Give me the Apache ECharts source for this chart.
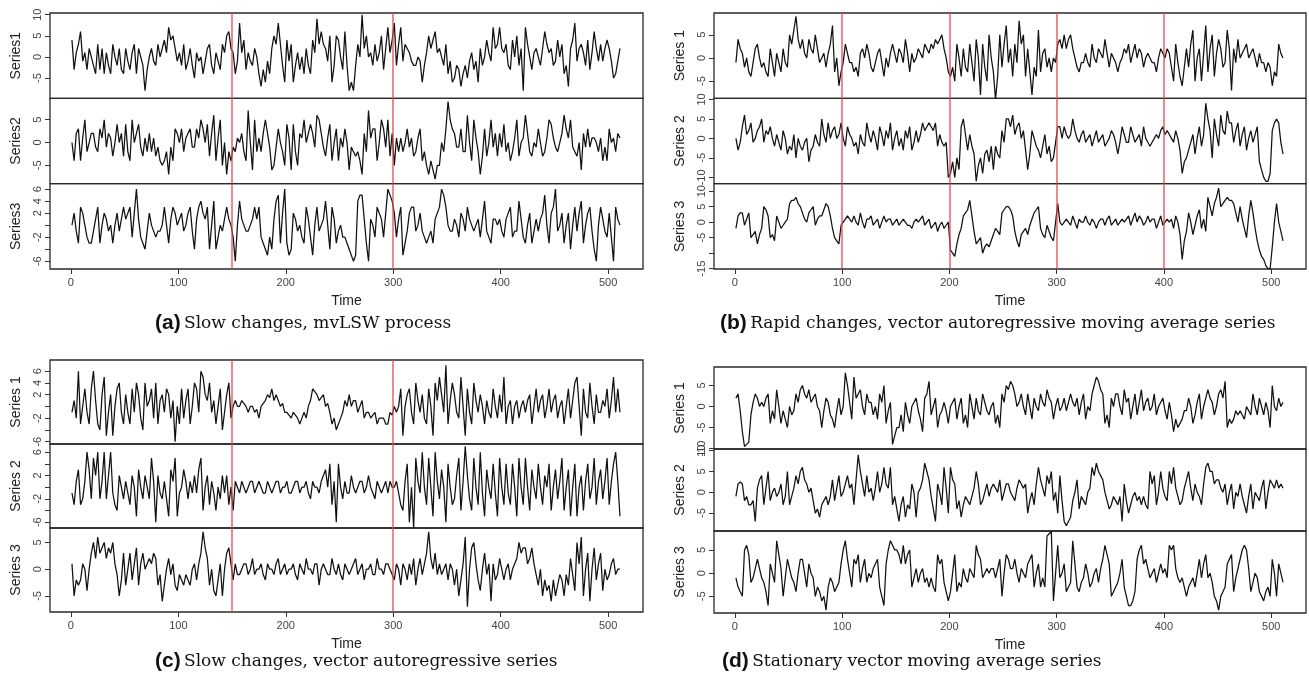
<!DOCTYPE html>
<html><head><meta charset="utf-8">
<script src="https://cdn.jsdelivr.net/npm/echarts@6/dist/echarts.min.js"></script>
<style>html,body{margin:0;padding:0;background:#fff}#c{width:1309px;height:687px}</style>
</head><body><div id="c"></div>
<script>
// Every series is read at t = 1, 3, 5, ..., 511 (256 readings)
const T_START = 1, T_STEP = 2;

// (a) Slow changes, mvLSW process
const a1 = [4,-3,1, 3,6,-1, 1,-3,2, 0,-2,-4, 3,-3,2, -4,1,-2, -4,3,0, -2,2,-3, -4,2,-1,
 -3,1,3, -4,2,0, -2,-8,-3, 0,2,-1, -2,3,0, 2,4,1, 7,4,5, 2,-1,1,
 -2,3,-3, -1,2,-2, -5,1,-1, 0,-4,-1, 2,3,-2, -4,1,-1, -3,3,1, 5,6,2, 1,-4,-1,
 8,1,4, -3,1,-1, -2,2,0, -4,-7,-3, -6,-1,-4, 2,5,3, 8,3,-2, -6,4,-1,
 3,-6,-2, 1,-3,0, -4,2,-2, -4,4,1, 9,3,6, 3,2,-1, 5,-6,-2, 5,4,0, -3,6,-2,
 -8,-6,-8, -2,3,0, 10,2,5, 0,1,-2, 3,-1,1, 5,-3,2, 7,1,4, 8,-2,3,
 7,-1,3, 2,1,-1, -2,-2,0, -1,-6,-2, 1,5,2, 4,6,1, 2,0,-2, 3,-4,-1, -6,-5,-2,
 -3,-7,-4, -2,-5,-1, 1,-3,-1, -6,2,-2, 0,4,1, -1,7,2, 3,7,2, 1,3,-2,
 -3,4,0, 5,-2,2, -8,7,3, 0,-3,1, 2,0,-2, 2,6,3, 1,2,-2, -1,4,0, 3,-4,-2,
 -7,2,4, 8,-1,2, 3,1,-2, 4,-3,1, 6,2,-1, 3,-1,2, 4,2,-1, -5,-4,-1,
 2];
const a2 = [0,-4,2, 3,-4,1, 5,-2,0, 2,2,-1, -2,3,1, 5,-1,2, 1,-3,0, 4,0,2, -3,4,-2,
 -4,5,0, 2,4,-1, -3,1,-2, 2,-2,1, -3,-1,-4, -5,-4,-2, -7,-1,-4, 3,2,0,
 3,-2,1, 2,3,-1, -1,3,1, 5,3,0, 4,-3,2, 6,-4,1, 5,-5,0, -7,-2,-4, -1,-2,1,
 0,2,-2, -4,7,0, -6,5,-2, 1,-2,2, 5,2,-1, -6,-5,-1, 3,0,-2, -5,4,1,
 -6,4,-2, -5,2,1, 5,0,2, 4,2,-1, 6,5,2, -1,-3,1, 4,-4,0, 3,-4,1, -1,3,0,
 -6,-1,-2, -3,-2,-4, -7,2,-2, 7,1,3, 3,-4,0, 5,3,-1, 5,-3,2, -5,1,-2,
 1,-2,0, 3,-1,1, -3,-2,1, 3,-4,-2, -5,-7,-4, -6,-8,-5, -5,0,-2, 3,9,5, 3,2,-1,
 -1,3,-2, -2,6,0, -4,5,1, -2,-7,-3, 3,-3,0, 5,-1,2, -3,2,-1, 4,-2,0,
 -4,-2,1, 5,-3,0, 1,6,2, -2,-3,0, -1,3,0, -3,-2,1, 5,4,1, -1,-2,0, 2,6,3,
 1,5,-1, -2,-3,0, -6,2,-1, 3,-1,1, 1,0,-2, 1,-4,-1, -4,3,0, 1,-2,2,
 1];
const a3 = [0,2,-1, -3,3,2, 0,-2,-3, -3,-1,1, 3,-3,0, 2,1,-1, 0,-3,0, 2,-1,1, 3,1,2,
 3,-2,2, 6,1,-2, -3,-4,-1, 2,0,-1, -2,-1,-1, 0,3,0, -3,1,3, 2,0,1,
 2,-1,0, 2,3,-1, -4,1,3, 4,2,1, 3,-4,0, 4,-4,-2, 0,-1,1, 3,1,0, -2,-6,0,
 4,1,0, -1,-1,0, 1,3,1, 3,-2,-3, -4,-5,-2, -4,1,4, 5,-3,2, 6,-3,-5,
 -4,2,1, -1,0,-2, -3,3,1, -2,-5,0, 3,-1,0, 1,4,0, -4,3,1, -3,-1,0, -2,-2,-3,
 -4,-5,-6, -5,4,5, 5,1,-3, -6,1,0, -2,3,2, 1,-2,2, 6,5,4, 2,-2,1,
 3,-5,-3, -1,2,3, 3,-1,0, 2,-1,-2, -3,-2,-1, -3,1,2, 3,6,5, 3,0,-1, -1,1,0,
 -2,2,1, -1,3,1, 0,-1,0, 1,-2,1, 4,-1,-2, -3,1,1, 0,1,-1, -2,1,2,
 3,-2,-1, -1,4,1, -2,-3,0, 2,-3,-1, 1,-1,1, 2,5,0, -3,2,3, 6,-1,0, 2,-3,0,
 2,-4,0, 3,-1,2, 4,-3,0, 2,3,-1, -4,-6,0, 3,1,-1, -2,2,-2, -6,3,1,
 0];

// (b) Rapid changes, vector autoregressive moving average series
const b1 = [-1,4,2, 1,-2,0, -3,-4,-1, 2,3,0, -2,-1,-3, -4,2,-1, -4,1,-1, -3,2,-1, -2,5,3,
 6,9,4, 2,4,1, 0,4,2, 1,5,2, -1,0,1, -2,1,3, 7,-3,0, -6,-3,-1,
 3,1,-1, -1,-3,-2, -4,1,2, 0,3,1, -2,-3,-1, 1,2,-1, -4,0,-2, 1,3,1, -1,2,1,
 -1,4,1, -3,1,-1, 0,2,1, 0,3,2, 1,3,2, 4,3,4, 5,2,0, -3,-4,-2,
 -5,3,0, -4,2,-2, -3,3,-1, -5,4,0, -8,3,-2, -5,5,0, -3,-9,-4, 5,-2,3, 7,-1,2,
 -4,3,-1, 8,3,5, -4,2,-3, -8,-2,-4, 6,-3,1, 2,-2,0, -3,0,-1, 3,4,2,
 5,2,4, 5,2,0, -2,-3,-1, -1,1,-1, -2,3,0, -1,2,1, 0,4,1, -2,1,0, -1,-3,-1,
 0,2,1, 3,-1,1, 3,0,2, 1,-2,0, 1,0,-1, -1,-3,0, 2,1,0, 2,1,-2,
 -5,3,-1, -4,-6,-2, 2,-2,3, 6,-5,0, 2,-5,1, 7,-3,2, 5,-4,1, 4,2,-2, -1,6,2,
 -7,2,-1, 4,0,1, 2,3,0, 1,2,0, -2,1,-1, -1,-3,-1, -2,-6,-3, -4,3,1,
 0];
const b2 = [0,-3,-1, 3,6,1, 2,4,-1, 0,2,3, 5,-1,2, 1,3,0, -2,1,-1, -3,2,0, -4,-2,-3,
 1,-5,0, -2,-3,-1, 0,-6,-3, -2,1,-1, -2,5,1, -1,4,0, 2,3,0, 1,4,0,
 -2,3,1, 0,-2,-1, -4,1,-1, -2,4,1, -1,2,0, -3,3,1, -2,2,0, 4,-3,0, 2,-2,0,
 -3,2,0, 3,-3,-1, 2,-1,1, 4,2,3, 4,3,2, 4,-2,1, -1,-2,-1, -10,-9,-6,
 -10,-5,-8, 3,5,1, -3,1,-2, -4,-11,-7, -5,-9,-4, -3,-6,-2, -8,-2,-4, -5,2,-1, 5,5,3,
 6,1,3, 4,0,2, -3,-8,-4, 2,0,-2, -3,-5,-2, 1,-4,-2, -6,-5,-1, 3,3,0,
 3,1,0, 1,5,2, 0,-1,1, 2,-1,0, 1,-2,0, 2,-1,0, 1,-2,-1, 0,2,1, -1,-4,-1,
 3,1,-1, -1,3,1, -1,0,1, -2,3,0, -1,-2,-1, 0,1,0, 2,3,1, 2,1,0,
 -1,2,0, -3,-9,-6, -5,-3,-1, 1,-4,0, 3,-2,1, 9,5,2, -5,5,1, -2,6,2, 1,7,4,
 4,-1,2, 4,-2,1, 3,-3,0, 2,-1,1, 3,-6,-8, -10,-11,-11, -9,2,4, 5,4,-1,
 -4];
const b3 = [-2,2,3, 3,-1,1, 3,-5,-4, -3,-7,-4, -2,5,4, 2,-5,-4, -6,2,0, -2,-1,0, 1,6,7,
 7,8,6, 5,3,1, 0,3,4, 5,-1,1, 2,2,4, 6,5,2, -2,-5,-6, -7,-1,0,
 1,2,1, 0,2,0, -1,3,0, -2,1,1, 2,-1,0, 1,-2,0, 2,0,1, 1,-1,0, 1,-1,0,
 1,0,-1, -1,-2,0, 1,0,1, 2,-1,0, 1,-2,-1, 0,-3,-1, 0,-2,-1, 0,-9,-10,
 -11,-7,-4, -2,2,3, 4,7,2, -3,-7,-6, -5,-10,-8, -7,-8,-6, -4,-2,-3, -4,3,4, 5,5,4,
 2,-3,-6, -8,-4,-3, -2,-4,-1, 1,3,4, 5,-2,-4, -5,-1,-3, -5,-6,0, 6,0,-1,
 0,1,0, -1,2,0, -2,1,0, 0,2,0, -1,1,0, -2,0,1, 1,-1,1, 2,-1,0, 1,-1,0,
 1,0,1, 2,-1,1, 3,0,2, 1,-1,0, 2,0,1, 1,-2,0, 2,-1,0, 1,0,1,
 -2,2,0, -4,-12,-6, -3,3,0, -4,-1,2, 4,-2,1, -3,8,5, 2,6,8, 11,5,6, 7,8,7,
 7,6,3, 0,5,1, -2,-5,2, 7,3,-2, -6,-9,-11, -12,-14,-15, -15,-8,0, 6,0,-3,
 -6];

// (c) Slow changes, vector autoregressive series
const c1 = [-1,1,-2, 6,-3,0, 3,-1,-3, 3,6,1, -3,-4,2, 5,-5,-1, 2,-5,0, 3,4,-1, -3,2,-1,
 -3,3,-1, 4,2,-2, -4,4,0, 1,3,-2, 4,-3,1, 2,-1,3, 2,-2,1, -6,0,-3,
 3,-2,1, 3,-3,0, 4,3,-1, 6,5,2, 1,4,-1, 1,-3,0, 3,-4,-1, 2,4,-2, 0,1,0,
 0,1,0.5, 0,-1,0, 0,-1,-0.5, -2,0,0.5, 1,2,1.5, 3,1,2, 1,0,0.5, -1,-1,-1.5,
 -2,-1,-1.5, -2,-3,-2, -1,-2,0, 1,3,2.5, 2,1,1.5, 2,0,0.5, -1,-3,-2, -4,-3,-2, -1,1,0,
 2,0,1, 1,-1,0, 1,-2,-1, -1,-2,-1.5, -1,-3,-2, -2,-2,-3, -3,-1,-1.5, 0,-1,0,
 3,-5,0, 2,3,-1, -3,4,1, -1,2,-2, -3,3,0, -5,4,1, 5,2,-1, 7,-3,1, 4,2,-1,
 -2,5,0, -5,3,-1, -3,4,1, -1,2,0, -3,1,-1, -2,3,0, -2,2,-1, 5,-3,0,
 1,-3,0, 1,-2,0, 1,-1,1, 2,-3,0, 3,-1,1, 2,-2,0, 3,-1,1, 2,-2,0, 1,-3,0,
 3,-2,1, 4,5,0, -5,3,-1, -2,4,0, -3,2,-1, -1,1,0, 3,-2,1, 5,-1,3,
 -1];
const c2 = [-1,-3,1, 3,-3,-2, 1,6,3, -2,5,2, 6,-2,1, 6,-2,2, 6,-1,-3, -4,2,0, -2,1,-1,
 -3,2,0, -5,3,0, -2,2,0, -2,5,1, -6,2,-1, -2,1,-2, -5,3,1, 5,-5,-1,
 0,3,1, -2,1,-1, 2,-1,3, 5,-4,0, 2,-3,1, -1,-4,0, -2,2,-1, 2,-3,0, -4,1,0,
 -1,1,0, -1,0,1, 1,-1,0, 1,0,-1, -1,1,0, -1,0,1, 1,-1,0, 0,1,-1,
 -1,0,1, 1,-1,0, 0,1,-1, -2,1,0, 0,-1,1, 2,3,0, 4,-3,1, -6,4,0, -2,1,-1,
 -1,2,0, -1,0,1, 1,-1,0, 2,0,-1, -2,1,0, -1,0,1, -1,1,0, 0,1,-1,
 -3,-4,1, 4,-6,0, -7,5,1, -1,6,0, -3,5,0, -5,6,1, -2,3,0, -6,4,0, -3,-2,2,
 5,-4,1, 7,2,-2, -4,5,0, -3,6,-1, -5,3,0, -2,4,-1, -5,5,0, -3,4,-1,
 -3,4,0, -5,5,0, -3,5,0, -4,3,0, -2,4,0, -3,2,0, 4,-4,0, 3,-2,1, 5,-4,0,
 3,-5,0, 4,-5,0, 2,-4,1, 4,-2,0, 5,-3,1, 3,-2,1, 5,-3,1, 4,6,1,
 -5];
const c3 = [1,-5,-2, -3,-2,1, 0,-4,0, 3,5,2, 6,3,4, 5,2,4, 3,5,1, -1,-5,-2, 3,-3,0,
 3,-2,1, 4,-3,1, 3,0,1, 2,1,3, 2,-3,-1, -6,-3,0, 2,-1,1, -3,-4,-1,
 -2,-3,-1, -2,-3,0, 1,-2,1, 3,7,4, 2,-3,0, -4,-5,-2, 1,-5,0, 3,4,1, -2,1,-1,
 -1,0,1, 1,-1,0, 2,-1,0, 0,1,-1, -2,1,0, 0,-1,1, 2,-1,0, 1,-1,0,
 0,1,-1, -2,1,0, -1,2,0, 0,-1,1, 1,-3,0, 1,0,-1, -1,2,0, -1,1,-1, -2,1,0,
 -1,0,1, 2,-1,0, 1,-2,0, 0,1,-1, -1,2,0, 0,-1,1, 1,0,-1, -2,1,0,
 -3,1,0, -2,1,-1, 2,-3,0, 2,-1,1, 3,7,2, 0,3,-1, 1,-1,0, 1,-2,1, 0,-3,0,
 -5,-2,1, 6,-7,0, 4,5,1, -2,-4,0, 3,-1,1, -6,1,-2, -1,2,0, -2,0,1,
 -2,0,1, 2,5,3, 4,4,1, 2,4,1, -1,-3,0, -5,-2,-4, -3,-6,-2, -5,-3,-1, -2,-5,-1,
 -3,2,-1, -4,5,1, 6,-5,0, 3,-6,0, 4,-2,1, 3,-4,0, -2,-1,1, 2,-1,0,
 0];

// (d) Stationary vector moving average series
const d1 = [2,3,-1, -6,-9.5,-9, -8.5,-2,1, 3,2,0, 1,0,2, 3,-4,-1, -3,4,0, -4,-1,-3, -5,0,-2,
 -1,3,1, 4,5,3, 2,4,1, 2,3,0, -1,-5,-1, 2,1,-2, -3,-5,-1, 2,-2,0,
 8,5,1, -3,7,2, 3,4,0, -2,3,1, 1,-2,0, -3,3,1, 5,-4,-1, 1,-9,-7, -5,-5,-2,
 -6,1,-2, -4,0,1, 2,-1,-3, -6,2,3, 6,-2,0, 2,-5,-2, -1,1,-1, -4,0,1,
 2,-3,0, 2,-4,-2, -5,3,0, -3,2,-1, -2,3,1, -1,-2,0, 1,-4,-2, -5,3,1, 5,4,6,
 5,3,0, 1,3,0, -2,3,0, -3,2,0, -1,3,1, 0,4,2, 1,-3,0, 2,-1,0,
 2,-1,1, 3,1,0, 2,-2,1, 3,-3,0, -1,3,5, 7,6,4, 3,-4,-2, -5,2,0, 3,3,0,
 -2,4,1, 2,-3,0, 3,-2,1, 4,-1,1, 2,-1,0, 3,-2,0, 1,2,-1, -3,1,-2,
 -6,-3,-5, -4,-3,-1, -1,2,0, -4,-2,1, 3,-3,0, 2,4,2, 1,-2,0, 3,4,2, 6,-5,-3,
 -4,-3,-1, -2,-1,-2, -3,0,-1, -2,3,0, -2,2,0, -2,1,-1, -5,5,0, -1,2,0,
 1];
const d2 = [-1,2,2.5, 2,-2,-1, -3,-3,-2, -7,1,3, 4,-3,1, 5,-2,0, 1,-1,0, 2,-3,-1, 5,-3,-1,
 1,4,2, 5,6,3, 2,0,1, -2,-5,-4, -6,-3,-2, -1,-3,-1, 3,-2,1, 4,-1,0,
 2,4,1, 2,-3,3, 9,5,2, -1,4,0, 1,-2,1, 5,0,2, 6,2,1, 6,-3,-1, -4,-7,-3,
 -1,-6,-3, -4,2,0, -6,0,1, 3,7,5, 3,-1,-4, -7,2,0, -3,6,1, -5,6,3,
 2,-4,-2, -6,-3,-1, -2,-3,-1, 1,5,2, -3,-2,0, 2,-1,1, 2,1,0, 3,-2,0, 2,2,0,
 -1,-2,1, 3,2,1, 2,-5,-2, 0,-3,2, 6,3,1, -1,4,2, 5,-2,0, -5,4,-2,
 -7,-8,-7, -6,-2,0, 3,-4,-1, -2,-3,0, 1,6,4, 7,5,4, 3,0,-2, -4,-3,-1, -2,-3,-1,
 -7,2,-2, -5,-3,-1, 0,-2,-1, -3,-1,-3, -4,5,2, 4,-3,0, 5,1,-1, -2,5,2,
 6,1,-1, -3,-2,1, 3,5,1, -2,2,0, -1,-3,2, 6,7,5, 5,2,3, 3,1,0, 2,-3,0,
 2,-4,0, -1,2,-1, -3,-5,-1, 2,-4,0, -1,-2,1, 3,-4,0, 3,2,1, 3,1,2,
 1];
const d3 = [-1,-3,-4, -5,5,6, 4,-2,-1, 1,3,1, -1,-2,-4, -7,2,0, -2,7,4, 1,-5,-1, 3,1,-1,
 -2,-4,0, 3,3,0, -3,2,0, -1,-5,-3, -4,-6,-5, -8,-3,-1, -2,-4,-3, -2,2,5,
 7,3,0, -3,3,2, 4,-2,1, 3,-2,0, -1,1,2, 3,-3,-5, -7,2,5, 7,6,5, 5,4,2,
 6,2,4, 5,-3,-1, 1,-2,0, 1,-2,-1, -3,-1,-3, -4,4,2, 3,-2,-4, -6,-4,0,
 4,-4,-2, -3,1,-1, -2,1,0, -1,6,4, 3,-1,0, 1,0,1, 1,-1,1, 3,-5,0, 4,3,1,
 1,3,0, -2,1,0, -1,2,3, 4,-3,0, 2,-3,-1, -3,8,8.5, 9,-6,0, 6,-1,0,
 2,-4,-3, -2,7,2, -3,-4,-2, -1,2,0, -3,-2,0, 1,-2,1, 3,6,4, 2,-5,-4, -3,-2,0,
 3,-3,-5, -7,-7,-6, -4,3,5, 6,2,3, 1,-1,0, 1,-2,0, 2,0,1, -1,6,5,
 6,1,-1, -2,-1,-3, -5,-3,-2, -1,-3,0, 3,-1,2, 4,-1,0, -2,-5,-6, -8,-5,-4, -3,2,3,
 4,-4,-1, 1,3,5, 6,5,1, -4,-2,0, -1,-4,-5, -6,-4,-3, -5,3,0, -5,2,0,
 -2];

// Axis ranges, ticks and tick labels
const xRange = [-19.44, 532.44];
const xTicks = [0, 100, 200, 300, 400, 500];
const yRangeA = [[-9.8, 10.4], [-9.0, 9.7], [-7.3, 6.9]];
const yTicksA = [[-5, 0, 5, 10], [-5, 0, 5], [-6, -4, -2, 0, 2, 4, 6]];
const yLabelsA = [[-5, 0, 5, 10], [-5, 0, 5], [-6, -2, 2, 4, 6]];
const yRangeB = [[-8.7, 9.7], [-11.6, 10.3], [-15.1, 12.4]];
const yTicksB = [[-5, 0, 5], [-10, -5, 0, 5, 10], [-15, -10, -5, 0, 5, 10]];
const yLabelsB = [[-5, 0, 5], [-10, -5, 0, 5, 10], [-15, -5, 0, 5, 10]];
const yRangeC = [[-6.4, 7.9], [-7.0, 7.4], [-8.0, 7.7]];
const yTicksC = [[-6, -4, -2, 0, 2, 4, 6], [-6, -4, -2, 0, 2, 4, 6], [-5, 0, 5]];
const yLabelsC = [[-6, -2, 2, 4, 6], [-6, -2, 2, 6], [-5, 0, 5]];
const yRangeD = [[-10.1, 9.4], [-9.3, 10.4], [-8.6, 9.1]];
const yTicksD = [[-10, -5, 0, 5], [-5, 0, 5, 10], [-5, 0, 5]];
const yLabelsD = [[-10, -5, 0, 5], [-5, 0, 5, 10], [-5, 0, 5]];

const namesA = ['Series1', 'Series2', 'Series3'];
const namesBCD = ['Series 1', 'Series 2', 'Series 3'];
const changeA = [150, 300], changeB = [100, 200, 300, 400], changeC = [150, 300], changeD = [];
const capTags = ['(a)', '(b)', '(c)', '(d)'];
const capTexts = ['Slow changes, mvLSW process',
  'Rapid changes, vector autoregressive moving average series',
  'Slow changes, vector autoregressive series',
  'Stationary vector moving average series'];

// Layout (pixels)
const layout = [
  {left: 50, width: 593, tops: [13, 98.3, 183.7], h: 85.3, cap: [155, 313]},
  {left: 714, width: 592, tops: [13, 98.3, 183.7], h: 85.3, cap: [720, 313]},
  {left: 50, width: 593, tops: [360, 444, 528], h: 84, cap: [155, 651]},
  {left: 714, width: 592, tops: [367, 449, 531], h: 82, cap: [722, 651]}
];
const panels = [
  {data: [a1, a2, a3], yr: yRangeA, yt: yTicksA, yl: yLabelsA, names: namesA, cp: changeA},
  {data: [b1, b2, b3], yr: yRangeB, yt: yTicksB, yl: yLabelsB, names: namesBCD, cp: changeB},
  {data: [c1, c2, c3], yr: yRangeC, yt: yTicksC, yl: yLabelsC, names: namesBCD, cp: changeC},
  {data: [d1, d2, d3], yr: yRangeD, yt: yTicksD, yl: yLabelsD, names: namesBCD, cp: changeD}
];

const toPts = arr => arr.map((v, i) => [T_START + T_STEP * i, v]);
const SANS = 'Liberation Sans, Arial, sans-serif';
const grids = [], xAxes = [], yAxes = [], series = [], graphic = [];

panels.forEach((p, pi) => {
  const L = layout[pi];
  for (let k = 0; k < 3; k++) {
    const gi = grids.length, bottom = k === 2;
    grids.push({left: L.left, top: L.tops[k], width: L.width, height: L.h, show: true,
      borderColor: '#2a2a2a', borderWidth: 1.3, backgroundColor: 'transparent'});
    xAxes.push({type: 'value', gridIndex: gi, min: xRange[0], max: xRange[1], position: 'bottom',
      axisLine: {show: false, onZero: false}, splitLine: {show: false},
      axisTick: {show: bottom, length: 5, customValues: xTicks, lineStyle: {color: '#333', width: 1}},
      axisLabel: {show: bottom, customValues: xTicks, color: '#444', fontSize: 11, margin: 8, fontFamily: SANS},
      name: bottom ? 'Time' : '', nameLocation: 'middle', nameGap: 25,
      nameTextStyle: {color: '#222', fontSize: 14, fontFamily: SANS}});
    yAxes.push({type: 'value', gridIndex: gi, min: p.yr[k][0], max: p.yr[k][1], position: 'left',
      axisLine: {show: false, onZero: false}, splitLine: {show: false},
      axisTick: {show: true, length: 5, customValues: p.yt[k], lineStyle: {color: '#333', width: 1}},
      axisLabel: {customValues: p.yl[k], rotate: 90, color: '#444', fontSize: 11, margin: 7, fontFamily: SANS},
      name: p.names[k], nameLocation: 'middle', nameGap: 27, nameRotate: 90,
      nameTextStyle: {color: '#222', fontSize: 14, fontFamily: SANS}});
    series.push({type: 'line', xAxisIndex: gi, yAxisIndex: gi, data: toPts(p.data[k]),
      symbol: 'none', showSymbol: false, animation: false, silent: true,
      lineStyle: {color: '#111', width: 1.25},
      markLine: p.cp.length ? {symbol: 'none', silent: true, animation: false, label: {show: false},
        lineStyle: {color: 'rgba(228,70,75,0.85)', width: 1.5, type: 'solid'},
        data: p.cp.map(v => ({xAxis: v}))} : undefined});
  }
  graphic.push({type: 'text', left: L.cap[0], top: L.cap[1], silent: true,
    style: {text: '{b|' + capTags[pi] + '} {s|' + capTexts[pi] + '}',
      rich: {b: {fontFamily: SANS, fontWeight: 'bold', fontSize: 21, fill: '#111'},
             s: {fontFamily: 'DejaVu Serif, Liberation Serif, serif', fontSize: 17, fill: '#111'}}}});
});

const chart = echarts.init(document.getElementById('c'), null, {renderer: 'canvas'});
chart.setOption({animation: false, backgroundColor: '#fff', grid: grids, xAxis: xAxes, yAxis: yAxes,
  series: series, graphic: graphic});
</script></body></html>
